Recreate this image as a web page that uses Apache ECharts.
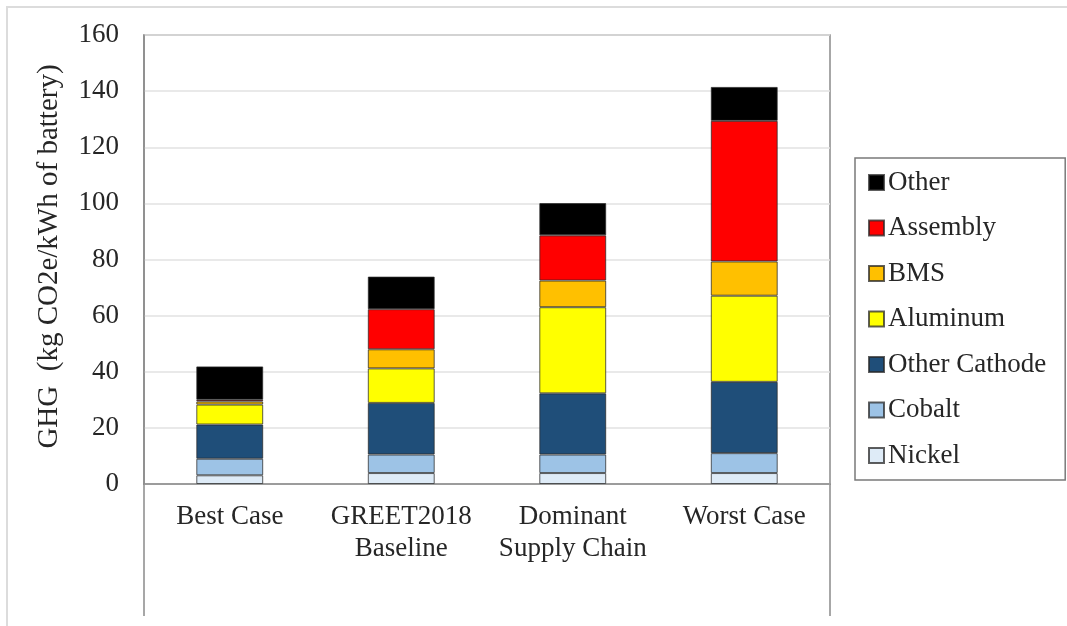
<!DOCTYPE html>
<html>
<head>
<meta charset="utf-8">
<script src="https://cdn.jsdelivr.net/npm/echarts@6/dist/echarts.min.js"></script>
<style>html,body{margin:0;padding:0;background:#fff}#c{width:1067px;height:626px}</style>
</head>
<body>
<div id="c"></div>
<script>
const categories = ['Best Case', 'GREET2018\nBaseline', 'Dominant\nSupply Chain', 'Worst Case'];
const yTicks = [0, 20, 40, 60, 80, 100, 120, 140, 160];
const nickel = [3.1, 3.9, 3.9, 3.9];
const cobalt = [5.9, 6.6, 6.6, 7.1];
const otherCathode = [12.2, 18.4, 21.8, 25.4];
const aluminum = [7.1, 12.3, 30.7, 30.7];
const bms = [1.1, 6.8, 9.5, 12.2];
const assembly = [0.6, 14.3, 16.1, 50.1];
const other = [11.9, 11.6, 11.5, 12.1];

const font = 'Liberation Serif';
const txt = '#262626';
const frame = '#8a8a8a';

function s(name, data, color) {
  return {
    name, type: 'bar', stack: 'total', data, barWidth: '39%',
    itemStyle: { color, borderColor: 'rgba(40,40,40,0.75)', borderWidth: 1 }
  };
}

const chart = echarts.init(document.getElementById('c'), null, { renderer: 'canvas' });
chart.setOption({
  backgroundColor: '#fff',
  animation: false,
  textStyle: { fontFamily: font },
  grid: { left: 144, right: 237, top: 35, bottom: 142, show: true, borderColor: frame, borderWidth: 1.5 },
  legend: {
    orient: 'vertical', left: 855, top: 158,
    padding: [11, 19, 11, 13],
    borderColor: '#7a7a7a', borderWidth: 1.5,
    itemWidth: 15, itemHeight: 15, itemGap: 18.5,
    icon: 'rect',
    data: ['Other', 'Assembly', 'BMS', 'Aluminum', 'Other Cathode', 'Cobalt', 'Nickel'],
    textStyle: { fontFamily: font, fontSize: 27, color: txt, lineHeight: 26, padding: [0, 0, 0, -1] }
  },
  xAxis: {
    type: 'category', data: categories,
    axisLine: { lineStyle: { color: frame, width: 1.5 } },
    axisTick: { show: false },
    axisLabel: { fontFamily: font, fontSize: 27, color: txt, lineHeight: 32, margin: 17, interval: 0 }
  },
  yAxis: {
    type: 'value', min: yTicks[0], max: yTicks[yTicks.length - 1], interval: yTicks[1] - yTicks[0],
    name: 'GHG  (kg CO2e/kWh of battery)', nameLocation: 'middle', nameGap: 80,
    nameTextStyle: { fontFamily: font, fontSize: 29, color: txt, padding: [0, 0, 0, 6] },
    axisLine: { show: true, lineStyle: { color: frame, width: 1.5 } },
    axisTick: { show: false },
    axisLabel: { fontFamily: font, fontSize: 27, color: txt, margin: 25 },
    splitLine: { lineStyle: { color: '#e2e2e2', width: 1.5 } }
  },
  graphic: [
    { type: 'rect', shape: { x: 7, y: 7, width: 1080, height: 640 }, style: { fill: 'none', stroke: '#dcdcdc', lineWidth: 2 }, silent: true },
    { type: 'line', shape: { x1: 144, y1: 484, x2: 144, y2: 616 }, style: { stroke: frame, lineWidth: 1.5 }, silent: true },
    { type: 'line', shape: { x1: 830, y1: 484, x2: 830, y2: 616 }, style: { stroke: frame, lineWidth: 1.5 }, silent: true }
  ],
  series: [
    s('Nickel', nickel, '#deebf7'),
    s('Cobalt', cobalt, '#9dc3e6'),
    s('Other Cathode', otherCathode, '#1f4e79'),
    s('Aluminum', aluminum, '#ffff00'),
    s('BMS', bms, '#ffc000'),
    s('Assembly', assembly, '#ff0000'),
    s('Other', other, '#000000')
  ]
});
</script>
</body>
</html>
